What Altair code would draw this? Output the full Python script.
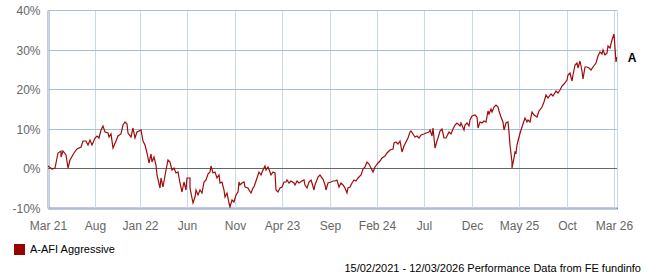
import altair as alt
import pandas as pd

START_DATE = "2021-02-15"
END_DATE = "2026-03-12"
SERIES = "A-AFI Aggressive"
SHORT = "A"

# day offsets from 15/02/2021 and cumulative performance (%)
days = [0,14,22,33,41,43,50,57,64,70,84,95,106,113,122,130,136,144,152,160,
        165,173,180,187,195,199,204,212,220,229,236,244,250,256,261,269,276,283,288,296,
        302,310,317,323,328,334,339,345,350,356,363,369,374,383,391,396,402,410,417,424,
        429,435,442,448,453,461,
        463,471,477,481,488,496,501,506,514,520,526,531,537,542,549,555,561,566,571,577,
        582,588,593,598,604,610,617,620,626,631,637,642,650,655,660,666,671,677,682,688,
        693,698,705,710,716,721,727,732,738,743,748,754,761,767,774,779,785,792,799,805,
        811,818,826,832,837,843,848,854,859,865,870,877,884,890,894,900,905,911,919,926,
        934,939,947,953,961,966,972,977,983,988,994,1001,1010,1018,1024,1031,1038,1045,1051,1058,
        1064,1072,1080,1088,1097,1104,1113,1121,1126,1132,1140,1145,1151,1157,1162,1170,1176,1181,1187,1194,
        1201,1207,1214,1222,1229,1238,1243,1249,1254,1259,1265,1270,1276,1281,1288,1294,1303,1310,1317,1325,
        1332,1339,1344,1352,1357,1363,1368,1373,1379,1388,1394,
        1399,1405,1411,1418,1424,1430,1434,1440,1445,1451,1457,1463,1468,1473,1479,1484,1489,1495,1499,1504,
        1508,1510,1515,1518,1522,1526,1533,1538,1545,1551,1557,1562,1568,1575,1582,1590,1597,1606,1613,1621,
        1627,1636,1644,1651,1658,1665,1673,1679,1687,1692,1698,1704,1709,1714,1720,1725,1731,1736,1741,1747,
        1753,1760,1766,1774,1782,1788,1796,1801,1806,1812,1818,1823,1828,1834,1840,1844,1849,1851]

values = [0.5,-0.2,0.2,3.8,4.4,3.0,4.4,3.4,0.0,2.1,3.8,4.9,5.5,6.8,6.9,5.9,7.2,5.9,7.6,8.3,
          7.8,9.7,10.8,9.3,8.9,8.0,8.6,5.1,6.8,8.3,8.6,11.0,11.8,11.2,8.9,8.0,10.3,7.6,9.3,9.5,
          9.7,6.8,5.9,3.8,1.3,3.6,1.5,3.0,0.9,-1.7,-5.0,-2.5,-4.6,-0.4,2.1,1.5,-0.4,0.0,-1.2,-0.8,
          -3.8,-5.9,-3.4,-5.5,-2.4,-2.5,
          -5.0,-8.7,-7.2,-5.5,-6.6,-5.5,-6.3,-3.4,-2.9,-1.5,-0.8,0.7,-1.2,-1.0,-2.5,-1.7,-3.8,-3.5,-5.5,-7.2,
          -6.3,-8.8,-9.7,-8.0,-8.4,-6.7,-5.9,-3.5,-4.2,-3.8,-3.4,-4.6,-5.0,-5.5,-6.3,-5.0,-4.6,-3.2,-1.7,-0.8,
          -1.7,-0.4,0.7,-0.4,0.4,-0.8,-1.7,-0.8,-1.2,-5.5,-5.9,-5.0,-4.6,-3.5,-3.4,-2.9,-3.8,-3.2,-3.8,-4.2,
          -3.2,-3.8,-3.2,-2.9,-4.2,-5.0,-3.5,-2.9,-3.8,-5.5,-4.2,-2.1,-1.7,-2.5,-2.7,-4.2,-5.5,-3.8,-3.4,-3.2,
          -3.2,-2.9,-4.6,-3.8,-4.2,-5.0,-6.3,-5.0,-4.6,-3.8,-2.9,-3.2,-2.5,-1.7,-0.2,0.4,1.7,1.0,0.0,-0.8,
          0.4,1.3,1.9,2.6,3.1,3.8,4.7,4.9,6.4,6.6,6.1,6.8,4.1,5.7,6.1,7.6,9.3,9.5,8.6,8.0,
          8.3,7.8,8.5,8.6,8.9,9.3,9.7,8.3,10.3,5.1,6.8,7.6,9.5,10.0,7.8,7.6,9.1,8.6,10.0,11.0,
          11.4,10.8,11.4,9.7,11.0,11.4,10.8,12.3,13.3,13.5,13.1,
          10.3,11.8,11.4,12.0,11.7,14.5,13.7,15.0,14.2,15.6,16.1,15.6,14.5,13.1,11.8,9.7,11.4,11.7,9.3,5.9,
          1.7,0.2,2.6,4.2,3.8,5.9,8.0,9.7,11.2,12.7,11.8,12.3,11.8,14.2,13.5,13.1,14.5,15.6,16.7,18.6,
          17.9,18.8,18.4,19.6,19.0,19.8,20.9,21.3,22.4,23.5,24.1,22.1,23.6,26.2,26.6,25.3,27.0,24.5,22.6,25.5,
          25.7,25.3,24.9,25.7,26.6,28.3,29.5,28.9,30.0,28.7,29.1,30.8,30.4,32.5,34.0,30.4,26.9,28.2]

tick_days = [0, 153, 299, 453, 608, 761, 917, 1070, 1224, 1380, 1533, 1689, 1842]
tick_labels = ["Mar 21", "Aug", "Jan 22", "Jun", "Nov", "Apr 23", "Sep",
               "Feb 24", "Jul", "Dec", "May 25", "Oct", "Mar 26"]
y_ticks = [-10, 0, 10, 20, 30, 40]
footer = ["15/02/2021 - 12/03/2026 Performance Data from FE fundinfo"]

END_DAY = (pd.Timestamp(END_DATE) - pd.Timestamp(START_DATE)).days

df = pd.DataFrame({"day": days, "value": values})
df["series"] = SERIES
last = df.tail(1).assign(lab=SHORT)

FONT = "Liberation Sans"
GRID = "#c8dae6"
VGRID = "#c8dae6"
HGRID = "#a8c0d2"
NAVY = "#14237a"
RED = "#9e0b0b"

label_expr = ("[" + ",".join(f"'{l}'" for l in tick_labels) + "][indexof(["
              + ",".join(str(d) for d in tick_days) + "], datum.value)]")

x_scale = alt.Scale(domain=[0, END_DAY], nice=False, zero=False, round=True)
y_scale = alt.Scale(domain=[-10, 40], nice=False, zero=False, round=True)

common = dict(title=None, grid=False, domainColor=NAVY, domainWidth=1.5, ticks=False,
              labelFontSize=12, labelColor="#666666", labelFont=FONT,
              labelFlush=False, labelOverlap=False)
x_axis = alt.Axis(values=tick_days, labelExpr=label_expr, labelPadding=12, **common)
y_axis = alt.Axis(values=y_ticks, labelExpr="datum.value + '%'", labelPadding=8, **common)

X = alt.X("day:Q", scale=x_scale, axis=x_axis)
Y = alt.Y("value:Q", scale=y_scale, axis=y_axis)

# grid lines drawn from the tick arrays
vgrid = alt.Chart(pd.DataFrame({"day": tick_days})).mark_rule(
    color=VGRID, strokeWidth=1, xOffset=0.5).encode(x=X)
hgrid = alt.Chart(pd.DataFrame({"value": y_ticks})).mark_rule(
    color=HGRID, strokeWidth=1, yOffset=0.5).encode(y=Y)

base = alt.Chart(df)

zero = base.mark_rule(color="#666666", strokeWidth=1, yOffset=0.5).encode(
    y=alt.Y(datum=0, scale=y_scale, axis=y_axis)
)

line = base.mark_line(strokeWidth=1.2, clip=True).encode(
    x=X, y=Y,
    color=alt.Color("series:N", scale=alt.Scale(domain=[SERIES], range=[RED]),
                    legend=alt.Legend(title=None, orient="none", legendX=-34, legendY=234,
                                      symbolType="square", symbolSize=121,
                                      symbolFillColor="#990000", symbolStrokeWidth=0,
                                      labelFont=FONT, labelFontSize=11, labelColor="#000000",
                                      labelOffset=5, padding=0)),
)

end_label = alt.Chart(last).mark_text(fontWeight="bold", fontSize=12, font=FONT,
                                      color="#000000", dx=15, dy=1, align="center",
                                      baseline="middle").encode(
    x=X, y=Y, text="lab:N",
)

foot = alt.Chart(pd.DataFrame({"t": footer})).mark_text(
    fontSize=11, font=FONT, color="#000000", align="right", baseline="middle"
).encode(x=alt.value(593), y=alt.value(259), text="t:N")

chart = alt.layer(vgrid, hgrid, zero, line, end_label, foot).properties(
    width=569, height=198,
    autosize=alt.AutoSizeParams(type="none"),
    padding={"left": 48, "top": 10, "right": 30, "bottom": 72},
    background="#ffffff",
).configure_view(stroke=GRID, strokeWidth=1)

chart.save("out.html", embed_options={"renderer": "svg", "actions": False})
